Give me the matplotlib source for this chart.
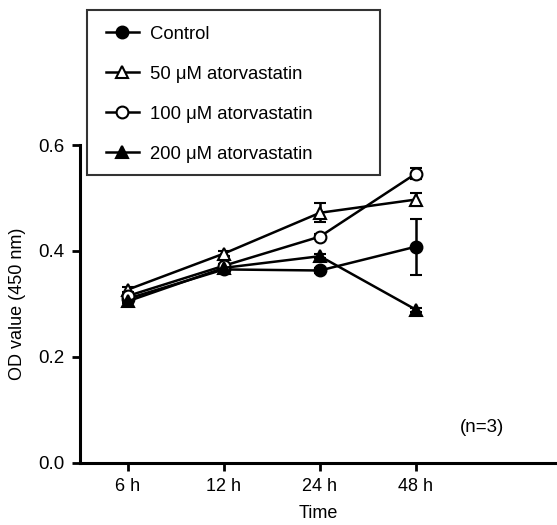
import numpy as np
import matplotlib
matplotlib.use("Agg")
import matplotlib.pyplot as plt
from matplotlib.patches import Rectangle

plt.rcParams['font.family'] = ['Liberation Sans', 'DejaVu Sans']

times = ["6 h", "12 h", "24 h", "48 h"]
labels = ["Control", "50 \u03bcM atorvastatin", "100 \u03bcM atorvastatin", "200 \u03bcM atorvastatin"]

control = [0.310, 0.365, 0.363, 0.408]
control_err = [0.004, 0.004, 0.004, 0.053]
atv50 = [0.327, 0.395, 0.472, 0.497]
atv50_err = [0.004, 0.004, 0.018, 0.013]
atv100 = [0.315, 0.372, 0.427, 0.546]
atv100_err = [0.004, 0.004, 0.004, 0.010]
atv200 = [0.305, 0.368, 0.390, 0.289]
atv200_err = [0.004, 0.004, 0.004, 0.004]

series = [control, atv50, atv100, atv200]
errors = [control_err, atv50_err, atv100_err, atv200_err]
markers = ["o", "^", "o", "^"]
faces = ["black", "white", "white", "black"]

W, H = 557, 525
fig = plt.figure(figsize=(W / 100, H / 100), dpi=100)
ax = fig.add_axes([80 / W, 62.3 / H, 1 - 80 / W, (462.7 - 145) / H])

x = np.arange(len(times))
for vals, err, m, fc, lab in zip(series, errors, markers, faces, labels):
    ax.errorbar(x, vals, yerr=err, color="black", marker=m, markerfacecolor=fc,
                markeredgecolor="black", markeredgewidth=1.5, markersize=8.5,
                linewidth=1.8, elinewidth=1.8, capsize=4.5, capthick=1.8, label=lab)

ax.set_xlim(-0.5, 4.47)
ax.set_ylim(0, 0.6)
ax.set_yticks([0.0, 0.2, 0.4, 0.6])
ax.set_yticklabels(["0.0", "0.2", "0.4", "0.6"])
ax.set_xticks(x)
ax.set_xticklabels(times)
for s in ["top", "right"]:
    ax.spines[s].set_visible(False)
for s in ["left", "bottom"]:
    ax.spines[s].set_linewidth(2.2)
ax.tick_params(axis="both", width=2.0, length=6, labelsize=13.5, colors="black", pad=5)
ax.tick_params(axis="x", labelsize=13)
ax.set_xlabel("Time", fontsize=13, labelpad=7)
ax.set_ylabel("OD value (450 nm)", fontsize=13, labelpad=9)

ax.text(3.69, 0.066, "(n=3)", fontsize=13.5, ha="center", va="center")

handles, labs = ax.get_legend_handles_labels()
handles = [h[0] for h in handles]
leg = fig.legend(handles, labs, loc="upper left", bbox_to_anchor=(100 / W, 1 - 20 / H),
                 bbox_transform=fig.transFigure, borderaxespad=0, fontsize=13.3,
                 handlelength=1.8, labelspacing=1.25, borderpad=0.3, handletextpad=0.6,
                 frameon=False)

# legend box is wider than its contents
fig.patches.append(Rectangle((86.7 / W, 1 - 175 / H), (380 - 86.7) / W, 165 / H,
                             transform=fig.transFigure, fill=False,
                             edgecolor="#333333", linewidth=1.5))

fig.savefig("out.png", dpi=100)
